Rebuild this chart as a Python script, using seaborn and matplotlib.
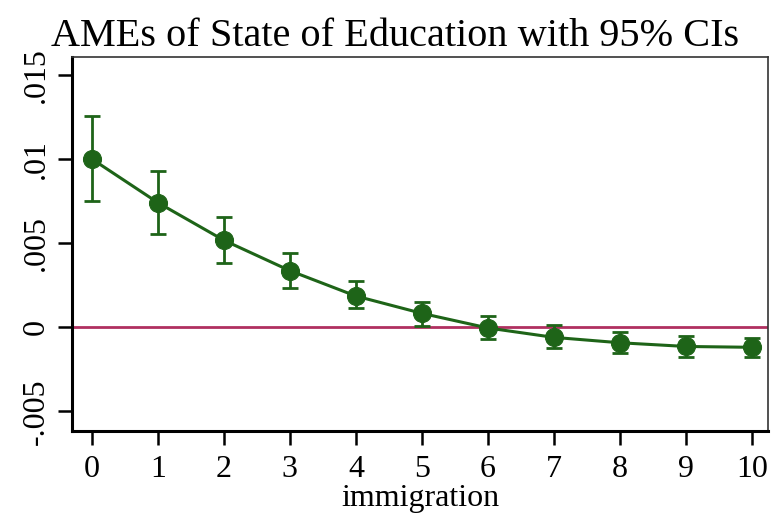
import numpy as np
import pandas as pd
import matplotlib
matplotlib.use("Agg")
import matplotlib.pyplot as plt
import seaborn as sns

immigration = [0, 1, 2, 3, 4, 5, 6, 7, 8, 9, 10]
ame = [0.01002, 0.00742, 0.00518, 0.00337, 0.00186, 0.00083, -0.00004, -0.00060, -0.00092, -0.00114, -0.00119]
ci_low = [0.00752, 0.00554, 0.00381, 0.00232, 0.00113, 0.00008, -0.00070, -0.00123, -0.00155, -0.00175, -0.00179]
ci_high = [0.01258, 0.00932, 0.00658, 0.00440, 0.00274, 0.00149, 0.00067, 0.00012, -0.00028, -0.00050, -0.00064]
y_ticks = [-0.005, 0, 0.005, 0.01, 0.015]
y_tick_labels = ["-.005", "0", ".005", ".01", ".015"]
title = "AMEs of State of Education with 95% CIs"
xlabel = "immigration"

df = pd.DataFrame({"immigration": immigration, "ame": ame, "lo": ci_low, "hi": ci_high})

sns.set_style("white")
plt.rcParams["font.family"] = ["Liberation Serif", "DejaVu Serif"]
plt.rcParams["text.color"] = "black"
plt.rcParams["xtick.color"] = "black"
plt.rcParams["ytick.color"] = "black"
plt.rcParams["axes.labelcolor"] = "black"

green = "#1e6418"
maroon = "#b03060"

fig = plt.figure(figsize=(7.72, 5.19), dpi=100)
ax = fig.add_axes([0.0933, 0.1696, 0.9015, 0.7206])

ax.axhline(0, color=maroon, lw=2.0, zorder=1)

yerr = np.array([df["ame"] - df["lo"], df["hi"] - df["ame"]])
ax.errorbar(df["immigration"], df["ame"], yerr=yerr, fmt="none", ecolor=green,
            elinewidth=2.0, capsize=6, capthick=2.0, zorder=2)
sns.lineplot(data=df, x="immigration", y="ame", ax=ax, color=green, lw=2.2,
             marker="o", markersize=13, markeredgecolor=green, markerfacecolor=green,
             zorder=3)

ax.set_xlim(-0.3, 10.24)
ax.set_ylim(-0.00617, 0.01609)
ax.set_xticks(immigration)
ax.set_xticklabels([str(v) for v in immigration])
ax.set_yticks(y_ticks)
ax.set_yticklabels(y_tick_labels, rotation=90, va="center")
ax.tick_params(axis="both", direction="out", length=10, width=1.8, colors="black",
               labelsize=23, left=True, bottom=True)
ax.tick_params(axis="x", pad=7)
ax.tick_params(axis="y", pad=5)
ax.set_xlabel(xlabel, fontsize=23, labelpad=0, color="black")
ax.xaxis.set_label_coords(0.5, -0.143)
ax.xaxis.label.set_va("top")
ax.set_ylabel("")
ax.set_title(title, fontsize=29, pad=8, color="black", x=0.464)

for side in ["left", "bottom"]:
    ax.spines[side].set_linewidth(2.2)
    ax.spines[side].set_color("black")
for side in ["top", "right"]:
    ax.spines[side].set_linewidth(1.2)
    ax.spines[side].set_color("#333333")

fig.savefig("out.png", dpi=100)
